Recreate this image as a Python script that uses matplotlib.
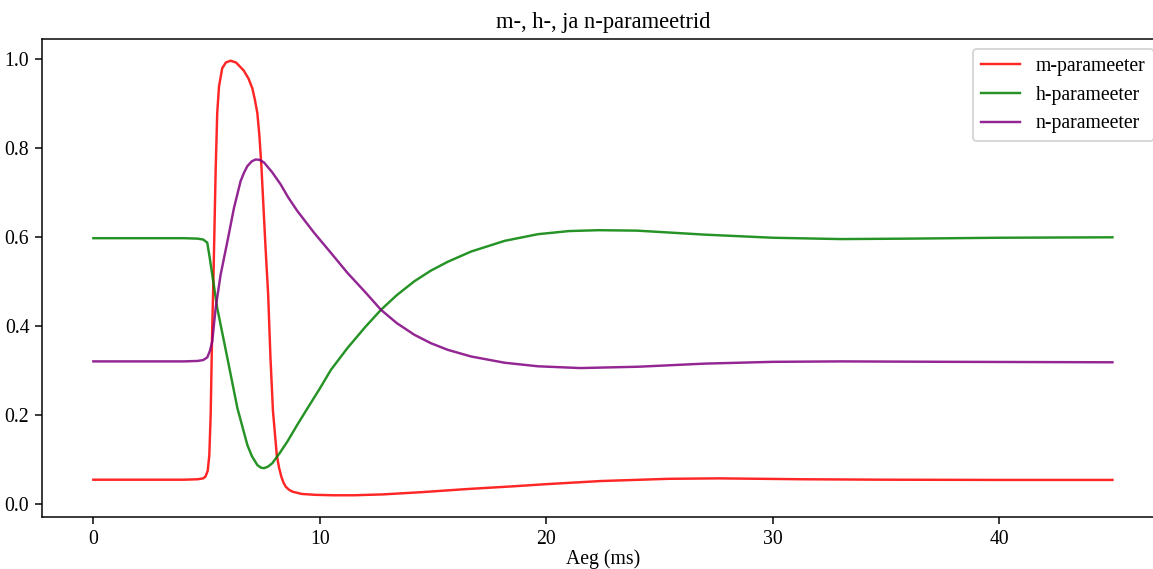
import matplotlib

matplotlib.use("Agg")
import matplotlib.pyplot as plt

# values
t_m = [0, 2, 4, 4.6, 4.85, 4.95, 5.05, 5.12, 5.18, 5.25, 5.3, 5.4, 5.47,
       5.55, 5.69, 5.85, 6.06, 6.3, 6.64, 6.85, 7.02, 7.13, 7.24, 7.33, 7.42,
       7.6, 7.72, 7.82, 7.93, 8.1, 8.2, 8.3, 8.4, 8.5, 8.65, 8.8, 9.2, 9.8,
       10.6, 11.5, 12.8, 14.5, 16.5, 18.5, 20.0, 22.4, 25.4, 27.6, 29.5,
       31.3, 35, 40, 45]
m_vals = [0.055, 0.055, 0.055, 0.056, 0.058, 0.062, 0.075, 0.11, 0.2, 0.4,
          0.5, 0.75, 0.88, 0.94, 0.98, 0.993, 0.997, 0.993, 0.975, 0.957,
          0.935, 0.91, 0.88, 0.83, 0.76, 0.58, 0.47, 0.33, 0.21, 0.11, 0.082,
          0.062, 0.048, 0.039, 0.032, 0.028, 0.023, 0.021, 0.02, 0.02, 0.022,
          0.027, 0.034, 0.04, 0.045, 0.052, 0.057, 0.058, 0.057, 0.056, 0.055,
          0.0545, 0.0545]

t_h = [0, 2, 4, 4.6, 4.85, 5.03, 5.12, 5.25, 5.47, 5.92, 6.36, 6.8, 7.0,
       7.24, 7.4, 7.54, 7.7, 7.9, 8.27, 8.57, 9.0, 9.46, 10.0, 10.49, 11.22,
       12.0, 12.7, 13.4, 14.17, 14.9, 15.65, 16.68, 18.16, 19.63, 21.0, 22.3,
       24.0, 27.0, 30.0, 33.0, 36.0, 40.0, 45]
h_vals = [0.598, 0.598, 0.598, 0.597, 0.595, 0.588, 0.56, 0.516, 0.441,
          0.328, 0.216, 0.133, 0.108, 0.088, 0.082, 0.081, 0.084, 0.092,
          0.118, 0.141, 0.178, 0.216, 0.26, 0.302, 0.351, 0.398, 0.437, 0.47,
          0.501, 0.525, 0.545, 0.568, 0.592, 0.607, 0.614, 0.616, 0.615,
          0.606, 0.599, 0.596, 0.597, 0.599, 0.6]

t_n = [0, 2, 4, 4.6, 4.85, 5.03, 5.15, 5.25, 5.4, 5.62, 5.92, 6.21, 6.5,
       6.65, 6.8, 7.0, 7.17, 7.35, 7.54, 7.9, 8.27, 8.6, 9.01, 9.75, 10.49,
       11.22, 12.0, 12.7, 13.4, 14.17, 14.9, 15.65, 16.68, 18.16, 19.63,
       21.5, 24.06, 27.0, 30.0, 33.0, 38.0, 45]
n_vals = [0.321, 0.321, 0.321, 0.322, 0.324, 0.33, 0.345, 0.366, 0.441,
          0.516, 0.591, 0.666, 0.726, 0.745, 0.76, 0.771, 0.775, 0.774,
          0.768, 0.746, 0.719, 0.69, 0.659, 0.61, 0.565, 0.52, 0.477, 0.437,
          0.407, 0.381, 0.362, 0.347, 0.332, 0.318, 0.31, 0.306, 0.309, 0.316,
          0.32, 0.321, 0.32, 0.319]

plt.rcParams["font.family"] = ["Liberation Serif", "DejaVu Serif"]
plt.rcParams["font.size"] = 10.5

fig = plt.figure(figsize=(1153 / 135, 569 / 135), dpi=135)
ax = fig.add_axes([42.4 / 1153, 52 / 569, 1121 / 1153, 478 / 569])

ax.plot(t_m, m_vals, color="red", lw=1.3, alpha=0.85, label="m-parameeter")
ax.plot(t_h, h_vals, color="green", lw=1.3, alpha=0.85, label="h-parameeter")
ax.plot(t_n, n_vals, color="purple", lw=1.3, alpha=0.85, label="n-parameeter")

ax.set_title("m-, h-, ja n-parameetrid", fontsize=12)
ax.set_xlabel("Aeg (ms)", labelpad=0)
ax.legend(loc="upper right")

fig.savefig("out.png", dpi=135)
